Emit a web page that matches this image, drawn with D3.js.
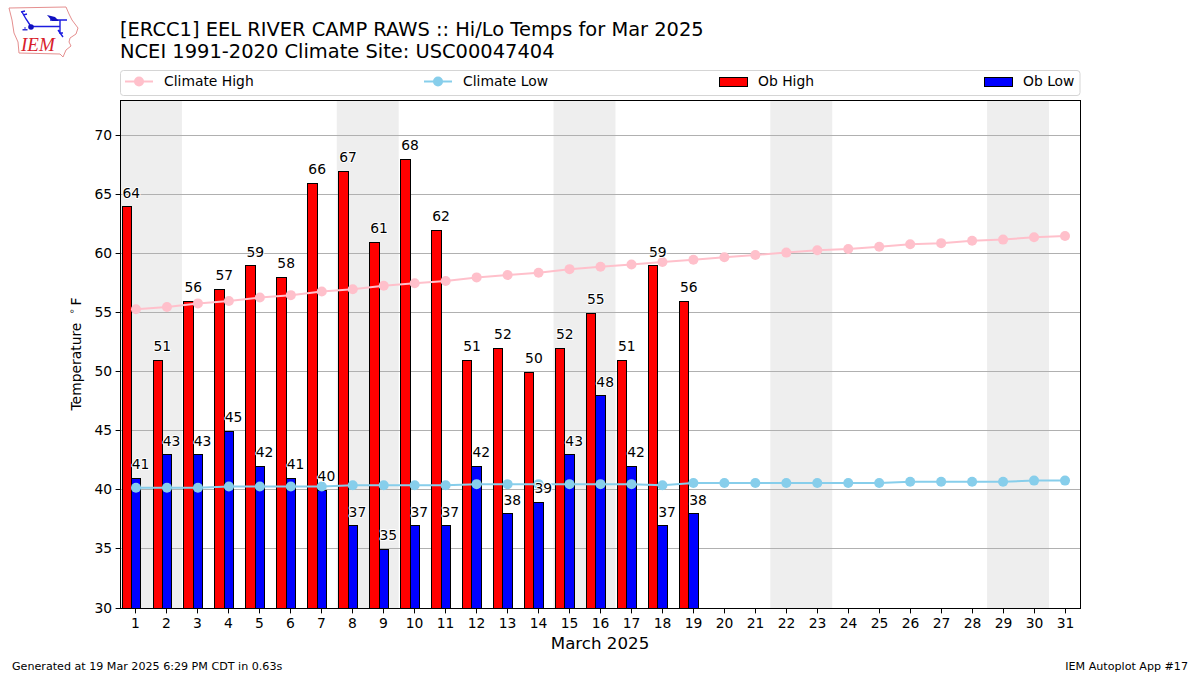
<!DOCTYPE html>
<html><head><meta charset="utf-8">
<script src="https://cdn.jsdelivr.net/npm/d3@7"></script>
<style>html,body{margin:0;padding:0;background:#fff}svg{display:block}text{font-family:"DejaVu Sans",sans-serif;fill:#000}</style>
</head><body><svg id="c" width="1200" height="675"></svg>
<script>
const days = d3.range(1, 32);
const obHigh = [64,51,56,57,59,58,66,67,61,68,62,51,52,50,52,55,51,59,56];
const obLow = [41,43,43,45,42,41,40,37,35,37,37,42,38,39,43,48,42,37,38];
const climateHigh = [55.3,55.5,55.8,56.0,56.3,56.5,56.8,57.0,57.3,57.5,57.7,58.0,58.2,58.4,58.7,58.9,59.1,59.3,59.5,59.7,59.9,60.1,60.3,60.4,60.6,60.8,60.9,61.1,61.2,61.4,61.5];
const climateLow = [40.2,40.2,40.2,40.3,40.3,40.3,40.3,40.4,40.4,40.4,40.4,40.5,40.5,40.5,40.5,40.5,40.5,40.4,40.6,40.6,40.6,40.6,40.6,40.6,40.6,40.7,40.7,40.7,40.7,40.8,40.8];
const weekends = [[1,2],[8,9],[15,16],[22,23],[29,30]];
const yTicks = [30,35,40,45,50,55,60,65,70];
const titleLines = ["[ERCC1] EEL RIVER CAMP RAWS :: Hi/Lo Temps for Mar 2025","NCEI 1991-2020 Climate Site: USC00047404"];
const legendItems = ["Climate High","Climate Low","Ob High","Ob Low"];

const L=120,R=1080,T=100,B=608;
const x=d3.scaleLinear().domain([0.5,31.5]).range([L,R]);
const y=d3.scaleLinear().domain([30,73]).range([B,T]);
const sx=v=>Math.round(x(v))+.5, sy=v=>Math.floor(y(v))+.5, by=v=>Math.round(y(v))+.5;
const svg=d3.select("#c");

// logo
const logo=svg.append("g");
logo.append("path").attr("d","M9 8 L66 7 L69 14 L72 20 L78 28 L76 34 L70 38 L69 42 L71 46 L66 50 L63 57 L60 54 L19 53 L18 42 L14 33 L12 20 Z").attr("fill","#fff").attr("stroke","#e58f8f").attr("stroke-width",1);
logo.append("path").attr("d","M31 26.5 H60 M60 20 V33 M50 20 H67 M22 12 L26 19 L31 26.5 M21 12 L25 11 M23 15 L27 14 M58 30 L63 37 M59 33 H63").attr("fill","none").attr("stroke","#1c1ce0").attr("stroke-width",1.4);
logo.append("circle").attr("cx",31).attr("cy",27).attr("r",2.8).attr("fill","#1010c0");
logo.append("path").attr("d","M47 15 L55 17 L59 21 L52 21 Z").attr("fill","#1010c0");
logo.append("path").attr("d","M22.5 29 h2 v-2 h1 v2 h2 v1.5 h-5 Z").attr("fill","#3030d0");
logo.append("text").attr("x",21).attr("y",51).attr("font-size",19).attr("font-style","italic").style("font-family","Liberation Serif").style("fill","#d8202a").text("IEM");

// titles
titleLines.forEach((t,i)=>svg.append("text").attr("x",120).attr("y",36+i*22).attr("font-size",19.44).text(t));

// legend
svg.append("rect").attr("x",120.5).attr("y",70.5).attr("width",959.5).attr("height",25).attr("rx",3).attr("fill","#fff").attr("stroke","#d5d5d5");
const legendX=[124,423,719,984];
const textX=[164,463,758,1023];
const ly=81.5;
["pink","skyblue"].forEach((c,i)=>{
  const g=svg.append("g");
  g.append("line").attr("x1",legendX[i]+1).attr("x2",legendX[i]+29).attr("y1",ly).attr("y2",ly).attr("stroke",c).attr("stroke-width",2);
  g.append("circle").attr("cx",legendX[i]+15).attr("cy",ly).attr("r",5).attr("fill",c);
});
["red","blue"].forEach((c,i)=>{
  svg.append("rect").attr("x",legendX[i+2]+.5).attr("y",77.5).attr("width",28).attr("height",9).attr("fill",c).attr("stroke","#000").attr("stroke-width",1);
});
legendItems.forEach((t,i)=>svg.append("text").attr("x",textX[i]).attr("y",86).attr("font-size",13.89).text(t));

// weekend shading
svg.append("g").selectAll("rect").data(weekends).join("rect")
 .attr("x",d=>x(d[0]-.5)).attr("width",d=>x(d[1]+.5)-x(d[0]-.5)).attr("y",T).attr("height",B-T).attr("fill","#eeeeee");

// grid
svg.append("g").selectAll("line").data(yTicks.filter(d=>d>30)).join("line")
 .attr("x1",L).attr("x2",R).attr("y1",d=>sy(d)).attr("y2",d=>sy(d)).attr("stroke","#b0b0b0").attr("stroke-width",1);

// bars
function bars(arr,off,color){
 svg.append("g").selectAll("rect").data(arr).join("rect")
 .attr("x",(d,i)=>sx(days[i]+off)).attr("width",(d,i)=>sx(days[i]+off+.3)-sx(days[i]+off))
 .attr("y",d=>by(d)).attr("height",d=>by(30)-by(d))
 .attr("fill",color).attr("stroke","#000").attr("stroke-width",1);
}
bars(obHigh,-.45,"red");
bars(obLow,-.15,"blue");

// climate lines
const line=d3.line().x((d,i)=>x(days[i])+.5).y(d=>y(d)+.2);
[[climateHigh,"pink"],[climateLow,"skyblue"]].forEach(([s,c])=>{
  const g=svg.append("g");
  g.append("path").attr("d",line(s)).attr("fill","none").attr("stroke",c).attr("stroke-width",2);
  g.selectAll("circle").data(s).join("circle").attr("cx",(d,i)=>x(days[i])+.5).attr("cy",d=>y(d)+.2).attr("r",5).attr("fill",c);
});

// value labels
function labels(arr,off){
 svg.append("g").selectAll("text").data(arr).join("text")
  .attr("x",(d,i)=>x(days[i]+off)+.5).attr("y",d=>Math.floor(y(d)-8.3)).attr("text-anchor","middle").attr("font-size",13.89)
  .style("paint-order","stroke").style("stroke","#fff").style("stroke-width",2).style("stroke-linejoin","round").text(d=>d);
}
labels(obHigh,-.15);labels(obLow,.15);

// frame and axes
svg.append("rect").attr("x",L+.5).attr("y",T+.5).attr("width",R-L).attr("height",B-T).attr("fill","none").attr("stroke","#000").attr("stroke-width",1);
const ax=svg.append("g").attr("transform",`translate(0,${B})`).call(d3.axisBottom(x).tickValues(days).tickFormat(d3.format("d")).tickSize(4.9).tickPadding(4.5));
ax.select(".domain").remove();
ax.selectAll(".tick").attr("transform",d=>`translate(${sx(d)},0.5)`);
const ay=svg.append("g").attr("transform",`translate(${L},0)`).call(d3.axisLeft(y).tickValues(yTicks).tickSize(4.9).tickPadding(3.5));
ay.select(".domain").remove();
ay.selectAll(".tick").attr("transform",d=>`translate(0.5,${sy(d)})`);
ay.selectAll(".tick text").attr("y",.5);
svg.selectAll(".tick text").attr("font-size",13.89).style("font-family","DejaVu Sans");
svg.selectAll(".tick line").attr("stroke","#000");

// axis labels
svg.append("text").attr("x",600).attr("y",649).attr("text-anchor","middle").attr("font-size",16.67).text("March 2025");
const yl=svg.append("text").attr("transform","translate(80.5,410.5) rotate(-90)").attr("font-size",13.89);
yl.append("tspan").text("Temperature ");
yl.append("tspan").attr("x",96.3).attr("font-size",9.7).attr("dy",-6).text("\u2218");
yl.append("tspan").attr("x",105).attr("dy",6).text("F");

// footer
svg.append("text").attr("x",12).attr("y",670).attr("font-size",11.11).text("Generated at 19 Mar 2025 6:29 PM CDT in 0.63s");
svg.append("text").attr("x",1188).attr("y",670).attr("text-anchor","end").attr("font-size",11.11).text("IEM Autoplot App #17");
</script></body></html>
